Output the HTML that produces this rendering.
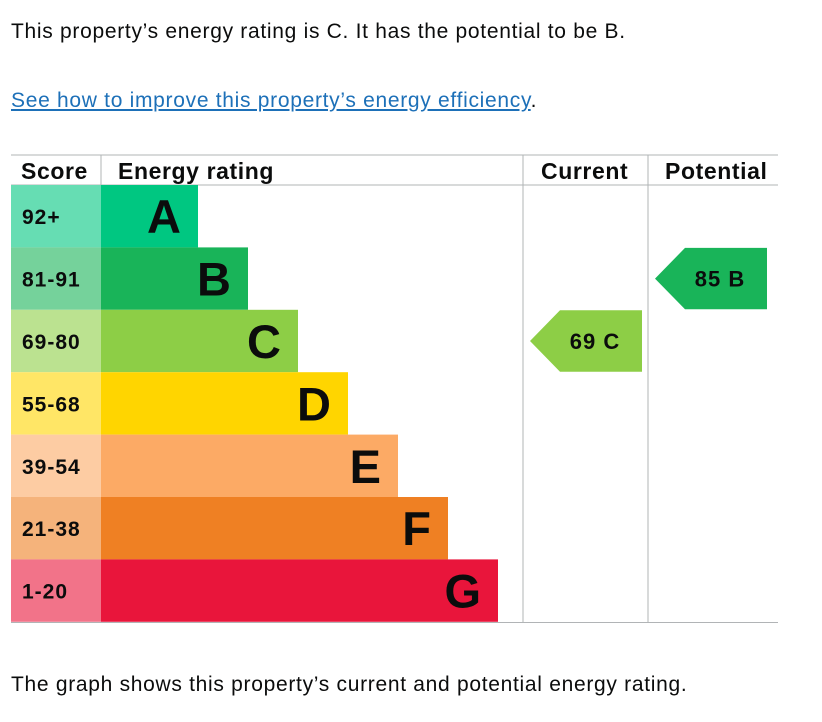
<!DOCTYPE html>
<html><head><meta charset="utf-8"><style>
body{margin:0;background:#fff;width:822px;height:722px;overflow:hidden;font-family:"Liberation Sans",sans-serif;color:#0b0c0c}
.t{position:absolute;left:11px;font-size:21px;letter-spacing:0.7px;margin:0;white-space:nowrap}
a{color:#1d70b8;text-decoration:underline}
</style></head><body>
<p class="t" style="top:20px">This property’s energy rating is C. It has the potential to be B.</p>
<p class="t" style="top:89px"><a href="#">See how to improve this property’s energy efficiency</a>.</p>
<svg id="chart" style="position:absolute;left:0;top:0" width="822" height="722"></svg>
<p class="t" style="top:673px">The graph shows this property’s current and potential energy rating.</p>
<script>
const bands=["A","B","C","D","E","F","G"];
const ranges=["92+","81-91","69-80","55-68","39-54","21-38","1-20"];
const minScores=[92,81,69,55,39,21,1];
const currentScore=69;
const potentialScore=85;
const colors=["#00c781","#19b459","#8dce46","#ffd500","#fcaa65","#ef8023","#e9153b"];
const light=["#66ddb3","#75d29b","#bbe290","#ffe666","#fdcca3","#f5b37b","#f27389"];
const NS="http://www.w3.org/2000/svg";
const svg=document.getElementById('chart');
function mk(t,a,txt){const e=document.createElementNS(NS,t);for(const k in a)e.setAttribute(k,a[k]);if(txt!==undefined)e.textContent=txt;svg.appendChild(e);return e;}
const top0=185,rowH=62.4,L=11,R=778,scoreW=90,curX=523,potX=648;
function rowY(i){return top0+i*rowH;}
function bandOf(s){for(let i=0;i<minScores.length;i++)if(s>=minScores[i])return i;return 6;}
let g;
g=mk('line',{x1:L,y1:155,x2:R,y2:155,stroke:'#b1b4b6'});
g=mk('line',{x1:L,y1:185,x2:R,y2:185,stroke:'#b1b4b6'});
g=mk('line',{x1:L,y1:622.5,x2:R,y2:622.5,stroke:'#b1b4b6'});
g=mk('line',{x1:101,y1:155,x2:101,y2:185,stroke:'#b1b4b6'});
g=mk('line',{x1:curX,y1:155,x2:curX,y2:622,stroke:'#b1b4b6'});
g=mk('line',{x1:potX,y1:155,x2:potX,y2:622,stroke:'#b1b4b6'});
const hs={'font-size':23,'font-weight':'bold','letter-spacing':0.6,'font-family':'Liberation Sans, sans-serif',fill:'#0b0c0c'};
g=mk('text',Object.assign({x:21,y:179},hs),'Score');
g=mk('text',Object.assign({x:118,y:179},hs),'Energy rating');
g=mk('text',Object.assign({x:541,y:179},hs),'Current');
g=mk('text',Object.assign({x:665,y:179},hs),'Potential');
bands.forEach((b,i)=>{
  const y=rowY(i),w=97+i*50;
  let e=mk('rect',{x:L,y:y,width:scoreW,height:rowH,fill:light[i]});
  
  
  e=mk('text',{x:22,y:y+rowH/2+8,'font-size':21,'letter-spacing':1,'font-weight':'bold','font-family':'Liberation Sans, sans-serif',fill:'#0b0c0c'},ranges[i]);
  
  
  e=mk('rect',{x:101,y:y,width:w,height:rowH,fill:colors[i]});
  
  
  e=mk('text',{x:101+w-17,y:y+rowH/2+17,'font-size':47,'font-weight':'bold','text-anchor':'end','font-family':'Liberation Sans, sans-serif',fill:'#0b0c0c'},b);
  
  
});
function arrow(score,x0,name){
  const i=bandOf(score),y=rowY(i)+0.5,h=rowH-1;
  let e=mk('polygon',{points:`${x0},${y+h/2} ${x0+30},${y} ${x0+112},${y} ${x0+112},${y+h} ${x0+30},${y+h}`,fill:colors[i]});
  
  
  e=mk('text',{x:x0+65,y:y+h/2+8,'font-size':22,'letter-spacing':1,'font-weight':'bold','text-anchor':'middle','font-family':'Liberation Sans, sans-serif',fill:'#0b0c0c','xml:space':'preserve'},score+'  '+bands[i]);
  
  
}
arrow(currentScore,530,'current-rating');
arrow(potentialScore,655,'potential-rating');
</script>
</body></html>
